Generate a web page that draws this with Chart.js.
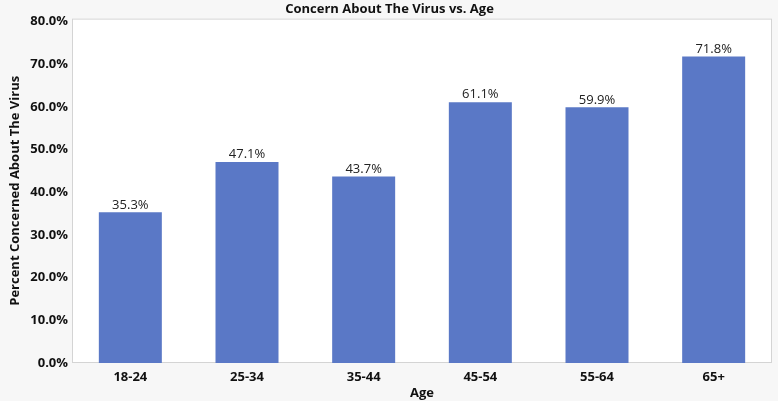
<!DOCTYPE html>
<html>
<head>
<meta charset="utf-8">
<script src="https://cdn.jsdelivr.net/npm/chart.js@4"></script>
<style>
  html, body { margin: 0; padding: 0; background: #f7f7f7; }
  #wrap { width: 778px; height: 401px; }
</style>
</head>
<body>
<div id="wrap"><canvas id="chart" width="778" height="401"></canvas></div>
<script>
const ageGroups = ['18-24', '25-34', '35-44', '45-54', '55-64', '65+'];
const concernPct = [35.3, 47.1, 43.7, 61.1, 59.9, 71.8];
const yTickValues = [0, 10, 20, 30, 40, 50, 60, 70, 80];

const fontFamily = '"Open Sans", "Noto Sans", sans-serif';

// paints grey page and white plot box with a thin border
const plotBox = {
    id: 'plotBox',
    beforeDraw(chart) {
        const { ctx, chartArea: a } = chart;
        ctx.save();
        ctx.fillStyle = '#f7f7f7';
        ctx.fillRect(0, 0, chart.width, chart.height);
        ctx.fillStyle = '#ffffff';
        ctx.fillRect(a.left, a.top, a.right - a.left, a.bottom - a.top);
        ctx.strokeStyle = '#d4d4d4';
        ctx.lineWidth = 1;
        ctx.strokeRect(a.left + 0.5, a.top + 0.5, a.right - a.left - 1, a.bottom - a.top - 1);
        ctx.restore();
    }
};

// value labels above each bar
const barLabels = {
    id: 'barLabels',
    afterDatasetsDraw(chart) {
        const { ctx } = chart;
        const meta = chart.getDatasetMeta(0);
        ctx.save();
        ctx.font = '13px ' + fontFamily;
        ctx.fillStyle = '#222222';
        ctx.textAlign = 'center';
        ctx.textBaseline = 'bottom';
        meta.data.forEach((bar, i) => {
            ctx.fillText(concernPct[i].toFixed(1) + '%', bar.x, bar.y - 1);
        });
        ctx.restore();
    }
};

new Chart(document.getElementById('chart'), {
    type: 'bar',
    data: {
        labels: ageGroups,
        datasets: [{
            data: concernPct,
            backgroundColor: '#5a78c6',
            borderWidth: 0,
            categoryPercentage: 1.0,
            barPercentage: 0.54
        }]
    },
    options: {
        responsive: false,
        animation: false,
        layout: {
            padding: { left: 7, right: 6, top: 0, bottom: 0 }
        },
        plugins: {
            legend: { display: false },
            tooltip: { enabled: false },
            title: {
                display: true,
                text: 'Concern About The Virus vs. Age',
                color: '#111111',
                font: { family: fontFamily, size: 13, weight: 'bold' },
                padding: { top: 1, bottom: 2 }
            }
        },
        scales: {
            x: {
                grid: { display: false, drawTicks: false },
                border: { display: false },
                ticks: {
                    color: '#111111',
                    padding: 6,
                    font: { family: fontFamily, size: 13, weight: 'bold' }
                },
                title: {
                    display: true,
                    text: 'Age',
                    color: '#111111',
                    padding: { top: 0, bottom: 0 },
                    font: { family: fontFamily, size: 13, weight: 'bold' }
                },
                afterFit(scale) { scale.height = 38; }
            },
            y: {
                min: 0,
                max: 80.7,
                grid: { display: false, drawTicks: false },
                border: { display: false },
                ticks: {
                    color: '#111111',
                    padding: 4,
                    font: { family: fontFamily, size: 13, weight: 'bold' },
                    callback: v => v.toFixed(1) + '%'
                },
                afterBuildTicks(scale) {
                    scale.ticks = yTickValues.map(v => ({ value: v }));
                },
                title: {
                    display: true,
                    text: 'Percent Concerned About The Virus',
                    color: '#111111',
                    padding: { top: 0, bottom: 0 },
                    font: { family: fontFamily, size: 13, weight: 'bold' }
                },
                afterFit(scale) { scale.width = 65; }
            }
        }
    },
    plugins: [plotBox, barLabels]
});
</script>
</body>
</html>
